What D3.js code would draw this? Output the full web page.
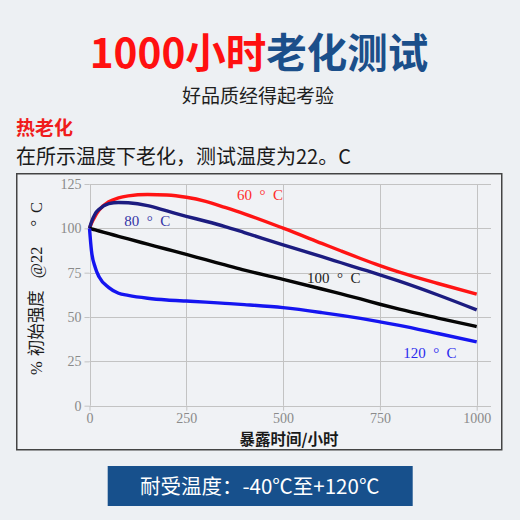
<!DOCTYPE html>
<html>
<head>
<meta charset="utf-8">
<script src="https://cdn.jsdelivr.net/npm/d3@7"></script>
<style>
  html, body { margin: 0; padding: 0; background: #edf0f3; }
  svg { display: block; }
  text { white-space: pre; }
</style>
</head>
<body>
<svg id="chart" width="520" height="520"></svg>
<script>
// ---- data ----
const hours = [0, 5, 15, 25, 50, 75, 100, 150, 200, 250, 300, 350, 400, 500, 600, 650, 700, 750, 800, 900, 1000];
const red60 = [100, 102.8, 107, 110.3, 115, 117.2, 118.3, 119.1, 118.8, 117.5, 115.2, 111.8, 108.2, 100.1, 91.5, 87.2, 83.0, 79.0, 75.3, 68.9, 62.9];
const navy80 = [100, 103.5, 108.3, 110.8, 113.9, 114.6, 114.4, 112.8, 109.8, 106.8, 104.0, 101.0, 97.6, 90.7, 84.0, 80.6, 77.2, 73.8, 70.2, 62.4, 54.0];
const black100 = [100, 99.7, 99.1, 98.5, 97, 95.5, 94, 91.1, 88.2, 85.3, 82.3, 79.4, 76.4, 71.2, 65.8, 63.0, 60.2, 57.2, 54.4, 49.4, 44.6];
const blue120 = [100, 87.5, 77.8, 72.5, 66.6, 63.4, 62.2, 60.6, 59.6, 59.0, 58.4, 57.7, 57.0, 55.3, 52.5, 50.9, 49.2, 47.3, 45.3, 40.7, 36.0];
const seriesNames = ["60  °  C", "80  °  C", "100  °  C", "120  °  C"];
const xTicks = [0, 250, 500, 750, 1000];
const yTicks = [0, 25, 50, 75, 100, 125];

const svg = d3.select("#chart");
const serif = "'Liberation Serif', 'Times New Roman', 'Noto Sans CJK SC', serif";
const cjk = "'Noto Sans CJK SC', 'Noto Sans', sans-serif";

// background
svg.append("rect").attr("width", 520).attr("height", 520).attr("fill", "#edf0f3");

// header
const title = svg.append("text").attr("x", 259).attr("y", 68)
  .attr("text-anchor", "middle").attr("font-family", cjk)
  .attr("font-weight", 700).attr("font-size", 40.5);
title.append("tspan").attr("fill", "#ff1010").text("1000小时");
title.append("tspan").attr("fill", "#1b4f8a").text("老化测试");

svg.append("text").attr("x", 258).attr("y", 102.5).attr("text-anchor", "middle")
  .attr("font-family", cjk).attr("font-size", 19).attr("fill", "#1e1e1e")
  .text("好品质经得起考验");

svg.append("text").attr("x", 16).attr("y", 134.5)
  .attr("font-family", cjk).attr("font-size", 19).attr("font-weight", 700).attr("fill", "#f01c1c")
  .text("热老化");

svg.append("text").attr("x", 16).attr("y", 163.5)
  .attr("font-family", cjk).attr("font-size", 20).attr("fill", "#1a1a1a")
  .text("在所示温度下老化，测试温度为22。C");

// chart frame
svg.append("rect").attr("x", 16.75).attr("y", 173.75).attr("width", 485).attr("height", 276)
  .attr("fill", "#f0f2f5").attr("stroke", "#444").attr("stroke-width", 1.5);

// scales
const x = d3.scaleLinear().domain([0, 1000]).range([89.5, 476.7]);
const y = d3.scaleLinear().domain([0, 125]).range([405.7, 184]);
const gridColor = "#c3c3c3";

// grid
const g = svg.append("g");
g.selectAll(".hg").data(yTicks).join("line")
  .attr("x1", x(0)).attr("x2", 491)
  .attr("y1", d => Math.round(y(d)) + 0.5).attr("y2", d => Math.round(y(d)) + 0.5)
  .attr("stroke", gridColor).attr("stroke-width", 1);
g.selectAll(".vg").data(xTicks).join("line")
  .attr("x1", d => Math.round(x(d)) + 0.5).attr("x2", d => Math.round(x(d)) + 0.5)
  .attr("y1", y(125)).attr("y2", y(0))
  .attr("stroke", gridColor).attr("stroke-width", 1);

// axes
const yAxis = svg.append("g").attr("transform", `translate(${x(0)},0)`)
  .call(d3.axisLeft(y).tickValues(yTicks).tickFormat(d3.format("d")).tickSize(5).tickPadding(3));
const xAxis = svg.append("g").attr("transform", `translate(0,${y(0)})`)
  .call(d3.axisBottom(x).tickValues(xTicks).tickFormat(d3.format("d")).tickSize(5).tickPadding(2.5));
[yAxis, xAxis].forEach(a => {
  a.select(".domain").remove();
  a.selectAll("line").attr("stroke", gridColor);
  a.selectAll("text").attr("fill", "#8a8a8a").attr("font-family", serif).attr("font-size", 14);
});

// lines
const series = [
  { name: seriesNames[0], values: red60, color: "#ff1414", labelColor: "#ff2a2a", lx: 381, ly: 116 },
  { name: seriesNames[1], values: navy80, color: "#1c1c80", labelColor: "#3434a6", lx: 90, ly: 101.5 },
  { name: seriesNames[2], values: black100, color: "#050505", labelColor: "#222", lx: 562, ly: 69.4 },
  { name: seriesNames[3], values: blue120, color: "#1515f0", labelColor: "#2a2aee", lx: 810, ly: 26.7 }
];
const line = d3.line().x((d, i) => x(hours[i])).y(d => y(d)).curve(d3.curveMonotoneX);
svg.append("g").selectAll("path").data(series).join("path")
  .attr("d", d => line(d.values))
  .attr("fill", "none").attr("stroke", d => d.color).attr("stroke-width", 3.4)
  .attr("stroke-linejoin", "round").attr("stroke-linecap", "butt");

svg.append("g").selectAll("text").data(series).join("text")
  .attr("x", d => x(d.lx)).attr("y", d => y(d.ly))
  .attr("font-family", serif).attr("font-size", 15)
  .attr("fill", d => d.labelColor).text(d => d.name);

// axis titles
svg.append("text").attr("x", 289).attr("y", 445).attr("text-anchor", "middle")
  .attr("font-family", cjk).attr("font-size", 15.5).attr("font-weight", 700).attr("fill", "#1a1a1a")
  .text("暴露时间/小时");

const yt = svg.append("text").attr("transform", "translate(41.5,375) rotate(-90)")
  .attr("font-family", serif).attr("font-size", 16.5).attr("fill", "#1a1a1a");
yt.append("tspan").text("%");
yt.append("tspan").attr("dx", 5).attr("font-family", cjk).text("初始强度");
yt.append("tspan").attr("dx", 12).text("@22");
yt.append("tspan").attr("dx", 20).text("°");
yt.append("tspan").attr("dx", 7).text("C");

// bottom banner
svg.append("rect").attr("x", 107.7).attr("y", 466).attr("width", 305).attr("height", 40)
  .attr("fill", "#17508c");
svg.append("text").attr("x", 259.7).attr("y", 494).attr("text-anchor", "middle")
  .attr("font-family", cjk).attr("font-size", 20.5).attr("fill", "#ffffff")
  .text("耐受温度：-40℃至+120℃");
</script>
</body>
</html>
